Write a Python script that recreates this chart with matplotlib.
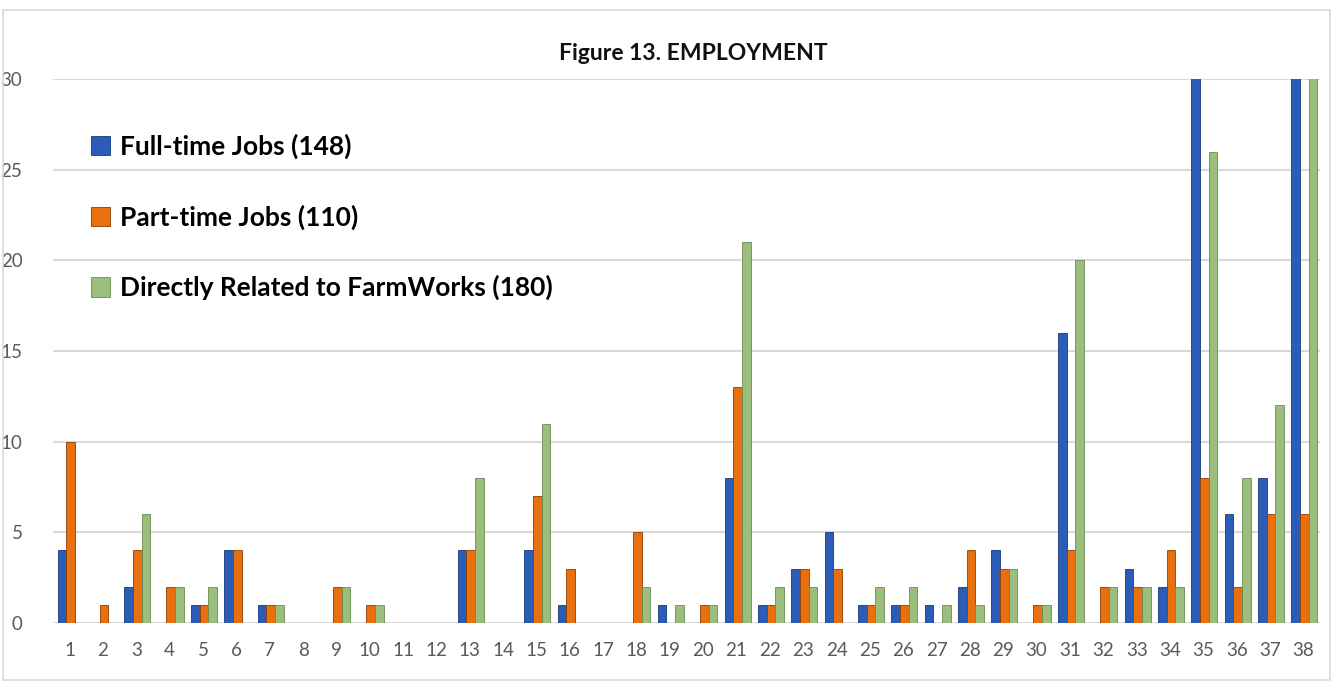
import matplotlib
matplotlib.use("Agg")
import matplotlib.pyplot as plt
import numpy as np
from matplotlib.patches import Rectangle

cats = [str(i) for i in range(1, 39)]
full_time = [4, 0, 2, 0, 1, 4, 1, 0, 0, 0, 0, 0, 4, 0, 4, 1, 0, 0, 1, 0,
             8, 1, 3, 5, 1, 1, 1, 2, 4, 0, 16, 0, 3, 2, 33, 6, 8, 33]
part_time = [10, 1, 4, 2, 1, 4, 1, 0, 2, 1, 0, 0, 4, 0, 7, 3, 0, 5, 0, 1,
             13, 1, 3, 3, 1, 1, 0, 4, 3, 1, 4, 2, 2, 4, 8, 2, 6, 6]
farmworks = [0, 0, 6, 2, 2, 0, 1, 0, 2, 1, 0, 0, 8, 0, 11, 0, 0, 2, 1, 1,
             21, 2, 2, 0, 2, 2, 1, 1, 3, 1, 20, 2, 2, 2, 26, 8, 12, 36]
labels = ["Full-time Jobs (148)", "Part-time Jobs (110)",
          "Directly Related to FarmWorks (180)"]
colors = ["#2B5CB8", "#E8700E", "#9CBE7C"]
edges = ["#173A7A", "#8C3E05", "#6B8A55"]

plt.rcParams["font.family"] = ["Lato", "DejaVu Sans"]

fig = plt.figure(figsize=(13.33, 6.82), dpi=100)
ax = fig.add_axes([53 / 1333, 1 - 623 / 682, (1320 - 53) / 1333, (623 - 79) / 682])

x = np.arange(len(cats))
w = 0.26
for i, (vals, lab) in enumerate(zip([full_time, part_time, farmworks], labels)):
    ax.bar(x + (i - 1) * w + 0.03, vals, width=w, color=colors[i],
           edgecolor=edges[i], linewidth=0.6, label=lab, zorder=3)

ax.set_ylim(0, 30)
ax.set_xlim(-0.5, len(cats) - 0.5)
ax.set_yticks(range(0, 31, 5))
ax.set_xticks(x)
ax.set_xticklabels(cats)
ax.tick_params(length=0, labelsize=13.5, labelcolor="#595959", pad=14)
ax.tick_params(axis="y", pad=22)
ax.grid(axis="y", color="#D9D9D9", linewidth=1.5, zorder=0)
for s in ax.spines.values():
    s.set_visible(False)

leg = ax.legend(loc="upper left", bbox_to_anchor=(0.068, 0.804),
                bbox_transform=fig.transFigure, frameon=False,
                prop={"weight": "bold", "size": 19}, labelspacing=1.72,
                handlelength=0.75, handleheight=0.75, handletextpad=0.35,
                borderpad=0, borderaxespad=0)

fig.text(0.52, 1 - 54 / 682, "Figure 13. EMPLOYMENT", ha="center", va="center",
         fontsize=16.5, fontweight="bold", color="#111111")

fig.patches.append(Rectangle((3 / 1333, 2 / 682), 1327 / 1333, 670 / 682,
                             transform=fig.transFigure, fill=False,
                             edgecolor="#D9D9D9", linewidth=1.2))

fig.savefig("out.png", dpi=100)
